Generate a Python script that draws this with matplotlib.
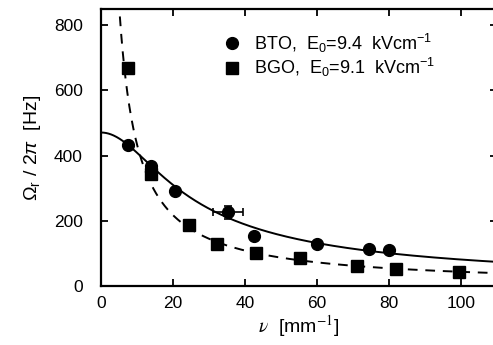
import numpy as np
import matplotlib
matplotlib.use("Agg")
import matplotlib.pyplot as plt

plt.rcParams['font.family'] = ['Liberation Sans', 'DejaVu Sans']
plt.rcParams['mathtext.fontset'] = 'custom'
plt.rcParams['mathtext.rm'] = 'Liberation Sans'
plt.rcParams['mathtext.it'] = 'Liberation Sans:italic'

# BTO data (circles)
bto_nu = [7.5, 14.0, 20.5, 35.3, 42.4, 59.9, 74.5, 80.0]
bto_f = [433, 368, 293, 226, 154, 129, 114, 110]
bto_xerr = [0, 0, 0, 4.1, 0, 0, 0, 0]
bto_yerr = [0, 0, 0, 20, 0, 0, 0, 0]

# BGO data (squares)
bgo_nu = [7.5, 13.9, 24.4, 32.1, 43.0, 55.4, 71.0, 82.0, 99.4]
bgo_f = [670, 345, 186, 129, 100, 87, 62, 52, 44]

# fit curve parameters: f = C / sqrt(nu0^2 + nu^2)
bto_C, bto_nu0 = 471.0 * 17.5, 17.5
bgo_C, bgo_nu0 = 4350.0, 0.5

fig = plt.figure(figsize=(4.93, 3.45), dpi=100)
ax = fig.add_axes([101/493, 59/345, 396/493, 277/345])

nu = np.linspace(0.01, 112, 800)
ax.plot(nu, bto_C / np.sqrt(bto_nu0 ** 2 + nu ** 2), 'k-', lw=1.4)
ax.plot(nu, bgo_C / np.sqrt(bgo_nu0 ** 2 + nu ** 2), 'k', ls=(0, (5, 4)), lw=1.4)

ax.errorbar(bto_nu, bto_f, xerr=bto_xerr, yerr=bto_yerr, fmt='none', ecolor='k',
            capsize=3, elinewidth=1.2, capthick=1.2)
h1, = ax.plot(bto_nu, bto_f, 'o', color='k', ms=8.5, ls='none')
h2, = ax.plot(bgo_nu, bgo_f, 's', color='k', ms=8.5, ls='none')

ax.set_xlim(0, 110)
ax.set_ylim(0, 850)
ax.set_xticks([0, 20, 40, 60, 80, 100])
ax.set_yticks([0, 200, 400, 600, 800])
ax.tick_params(direction='in', top=True, right=True, length=5, width=1.3,
               labelsize=12.5)
ax.tick_params(axis='y', pad=13)
ax.tick_params(axis='x', pad=7)
for s in ax.spines.values():
    s.set_linewidth(1.6)

ax.set_xlabel(r'$\nu$  [mm$^{-1}$]', fontsize=14, labelpad=2, math_fontfamily='stix')
ax.set_ylabel(r'$\Omega_\mathrm{r}$ / 2$\pi$  [Hz]', fontsize=14, labelpad=8)

ax.legend([h1, h2], [r'BTO,  E$_0$=9.4  kVcm$^{-1}$', r'BGO,  E$_0$=9.1  kVcm$^{-1}$'],
          loc='upper left', bbox_to_anchor=(0.29, 0.945), frameon=False,
          fontsize=13, handletextpad=0.7, labelspacing=0.1,
          handlelength=1.0, borderaxespad=0)

fig.savefig('out.png', dpi=100)
